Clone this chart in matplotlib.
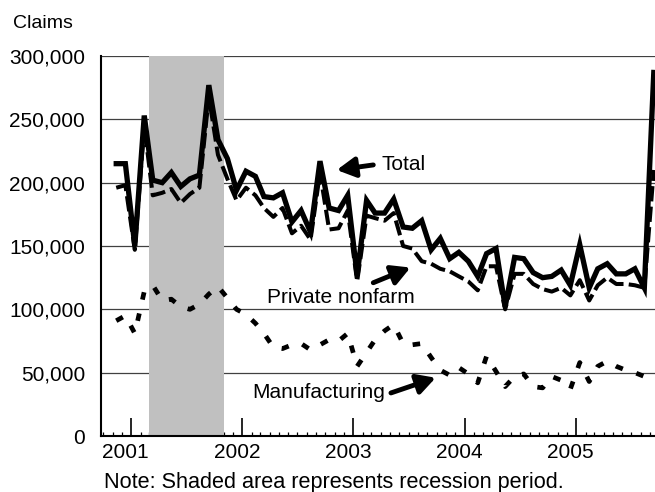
import numpy as np
import pandas as pd
import matplotlib
matplotlib.use("Agg")
import matplotlib.pyplot as plt
import matplotlib.dates as mdates
from matplotlib.ticker import FuncFormatter, MultipleLocator
from matplotlib.transforms import ScaledTranslation

plt.rcParams['font.family'] = ['Liberation Sans', 'DejaVu Sans']

# monthly initial claims, Nov 2000 - Sep 2005
months = pd.date_range('2000-11-01', '2005-09-01', freq='MS')

total = [215, 215, 150, 253, 202, 200, 208, 197, 203, 206, 277, 234,
         219, 194, 209, 205, 189, 188, 192, 169, 178, 161, 217, 180,
         178, 190, 127, 186, 176, 176, 187, 165, 164, 170, 147, 156,
         140, 145, 138, 126, 144, 148, 102, 141, 140, 129, 125, 126,
         131, 119, 151, 117, 132, 136, 128, 128, 132, 117, 287]

private_nonfarm = [196, 198, 147, 245, 190, 192, 195, 184, 191, 196, 268, 222,
                   203, 186, 196, 190, 180, 173, 180, 160, 166, 155, 208, 163,
                   164, 178, 122, 174, 172, 170, 176, 150, 148, 138, 136, 132,
                   130, 126, 122, 115, 134, 134, 100, 128, 128, 120, 116, 114,
                   117, 111, 123, 107, 119, 125, 120, 120, 119, 117, 210]

manufacturing = [91, 95, 81, 114, 119, 107, 108, 102, 100, 104, 112, 118,
                 109, 100, 96, 89, 81, 70, 69, 72, 73, 68, 72, 76,
                 75, 81, 55, 66, 76, 83, 88, 73, 72, 73, 62, 52,
                 48, 54, 49, 42, 63, 51, 39, 47, 49, 39, 38, 47,
                 44, 37, 58, 43, 55, 59, 55, 52, 50, 47, 54]

recession_start = pd.Timestamp('2001-03-01')
recession_end = pd.Timestamp('2001-11-01')

W, H = 655, 492
fig = plt.figure(figsize=(W / 100, H / 100), dpi=100)
ax = fig.add_axes([101 / W, 1 - 436 / H, 554 / W, 380 / H])

# points sit a little after the first of the month
x = months + pd.Timedelta(days=12)
k = 1000

ax.axvspan(recession_start, recession_end, color='#c0c0c0', lw=0, zorder=1)

ax.plot(x, np.array(manufacturing) * k, color='black', lw=3.4,
        dashes=(1.6, 3.0), solid_capstyle='butt', dash_capstyle='butt', zorder=2)
ax.plot(x, np.array(private_nonfarm) * k, color='black', lw=2.9,
        dashes=(3.8, 1.3), dash_capstyle='butt', zorder=2.5)
ax.plot(x, np.array(total) * k, color='black', lw=3.8,
        solid_joinstyle='miter', zorder=3)

ax.set_ylim(0, 300000)
ax.set_xlim(pd.Timestamp('2000-09-24'), pd.Timestamp('2005-09-17'))
ax.yaxis.set_major_locator(MultipleLocator(50000))
ax.yaxis.set_major_formatter(FuncFormatter(lambda v, p: f'{int(v):,}'))
ax.grid(axis='y', color='#404040', lw=0.9, zorder=0.5)
ax.set_axisbelow(True)

ax.xaxis.set_major_locator(mdates.YearLocator())
ax.xaxis.set_minor_locator(mdates.MonthLocator())
ax.xaxis.set_major_formatter(mdates.DateFormatter('%Y'))
ax.tick_params(axis='x', which='major', direction='in', length=13, width=1.2,
               labelsize=15, pad=5)
ax.tick_params(axis='x', which='minor', direction='in', length=3, width=0.9)
ax.tick_params(axis='y', length=0, labelsize=15, pad=11.5)
for lab in ax.get_xticklabels():
    lab.set_transform(lab.get_transform() + ScaledTranslation(-0.055, 0, fig.dpi_scale_trans))

for s in ['top', 'right']:
    ax.spines[s].set_visible(False)
ax.spines['left'].set_linewidth(1.5)
ax.spines['bottom'].set_linewidth(1.5)

arrow = dict(arrowstyle='-|>,head_length=0.55,head_width=0.3', lw=3.5,
             color='black', mutation_scale=20, shrinkA=0, shrinkB=0)
ax.annotate('', xy=(pd.Timestamp('2002-11-07'), 210000),
            xytext=(pd.Timestamp('2003-03-07'), 214000), arrowprops=arrow)
ax.text(pd.Timestamp('2003-04-04'), 214000, 'Total', fontsize=15, va='center', ha='left')

ax.annotate('', xy=(pd.Timestamp('2003-07-07'), 133000),
            xytext=(pd.Timestamp('2003-03-07'), 121000), arrowprops=arrow)
ax.text(pd.Timestamp('2002-11-20'), 109000, 'Private nonfarm', fontsize=15,
        va='center', ha='center')

ax.annotate('', xy=(pd.Timestamp('2003-09-28'), 46000),
            xytext=(pd.Timestamp('2003-05-04'), 34000), arrowprops=arrow)
ax.text(pd.Timestamp('2002-09-10'), 34000, 'Manufacturing', fontsize=15,
        va='center', ha='center')

fig.text(13 / W, 1 - 28 / H, 'Claims', fontsize=14, va='baseline', ha='left')
fig.text(104 / W, 1 - 488 / H, 'Note: Shaded area represents recession period.',
         fontsize=15.6, va='baseline', ha='left')

fig.savefig('out.png', dpi=100)
